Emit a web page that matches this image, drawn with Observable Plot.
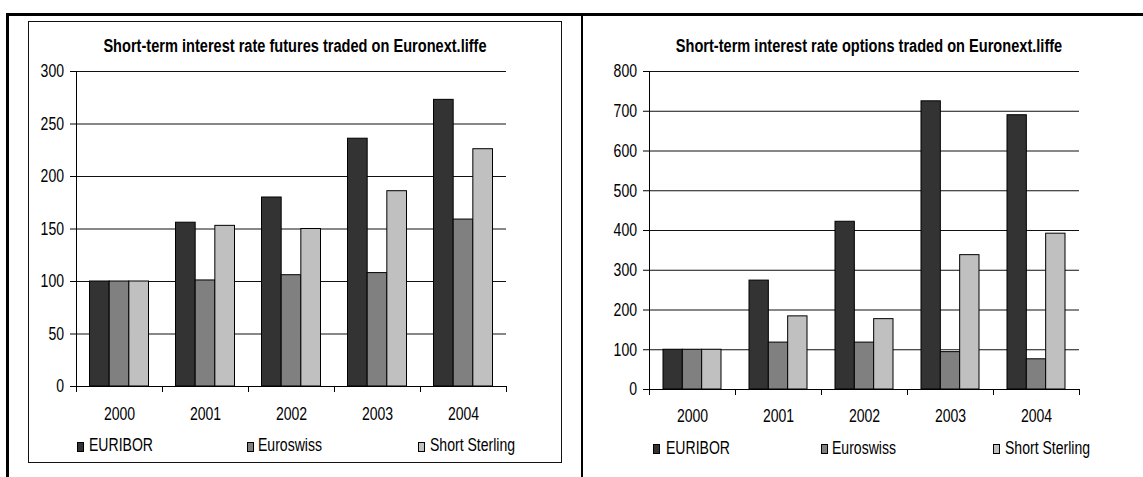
<!DOCTYPE html>
<html><head><meta charset="utf-8">
<script src="https://cdn.jsdelivr.net/npm/d3@7"></script>
<script src="https://cdn.jsdelivr.net/npm/@observablehq/plot@0.6"></script>
<style>
html,body{margin:0;padding:0;background:#fff;}
#root{position:relative;width:1143px;height:477px;overflow:hidden;font-family:"Liberation Sans",Arial,sans-serif;color:#000;background:#fff;}
.line{position:absolute;background:#000;}
.box{position:absolute;box-sizing:border-box;border:1.5px solid #111;}
.chart{position:absolute;top:0;}
.title{position:absolute;width:600px;text-align:center;font-weight:bold;font-size:18px;line-height:20px;white-space:nowrap;transform:scaleX(0.81);transform-origin:50% 50%;}
.lgtext{position:absolute;font-size:18px;line-height:20px;white-space:nowrap;transform:scaleX(0.78);transform-origin:0 0;}
.lgsw{position:absolute;width:5px;height:8px;border:1px solid #000;}
</style></head><body><div id="root"></div>
<script>
// ---- data ----
const years = ["2000", "2001", "2002", "2003", "2004"];
const seriesNames = ["EURIBOR", "Euroswiss", "Short Sterling"];
const seriesColors = ["#333333", "#808080", "#c0c0c0"];

const futuresEURIBOR = [100, 156, 180, 236, 273];
const futuresEuroswiss = [100, 101, 106, 108, 159];
const futuresShortSterling = [100, 153, 150, 186, 226];

const optionsEURIBOR = [100, 274, 422, 725, 690];
const optionsEuroswiss = [100, 118, 118, 94, 76];
const optionsShortSterling = [100, 184, 177, 338, 392];

const futuresTicks = [0, 50, 100, 150, 200, 250, 300];
const optionsTicks = [0, 100, 200, 300, 400, 500, 600, 700, 800];

const futuresTitle = "Short-term interest rate futures traded on Euronext.liffe";
const optionsTitle = "Short-term interest rate options traded on Euronext.liffe";

// ---- layout ----
const root = document.getElementById("root");
function el(cls, css, text) {
  const d = document.createElement("div");
  d.className = cls;
  Object.assign(d.style, css);
  if (text != null) d.textContent = text;
  root.appendChild(d);
  return d;
}

// outer frame
el("line", {left: "6px", top: "13px", width: "1137px", height: "3px"});
el("line", {left: "6px", top: "13px", width: "3px", height: "464px"});
el("line", {left: "581px", top: "13px", width: "2px", height: "464px"});
// inner box of the left chart
el("box", {left: "28px", top: "21px", width: "534px", height: "442px"});

function squeeze(svg, k) {
  svg.querySelectorAll("text").forEach(t => {
    const x = parseFloat(t.getAttribute("x")) || 0;
    const tr = t.getAttribute("transform") || "";
    t.setAttribute("transform", `${tr} translate(${x},0) scale(${k},1) translate(${-x},0)`);
  });
}

function makeChart({values, ticks, maxY, left, width, height, marginLeft, marginRight, marginTop, marginBottom, groupPad, labelPad}) {
  const plotW = width - marginLeft - marginRight;
  const band = plotW / years.length;
  const barW = (band - 2 * groupPad) / seriesNames.length;
  const marks = [Plot.ruleY(ticks, {stroke: "#111", strokeWidth: 1})];
  seriesNames.forEach((name, s) => {
    const rows = years.map((year, i) => ({year, series: name, value: values[s][i]}));
    marks.push(Plot.barY(rows, {
      x: "year", y: "value",
      fill: seriesColors[s], stroke: "#000", strokeWidth: 1,
      insetLeft: groupPad + s * barW,
      insetRight: band - groupPad - (s + 1) * barW
    }));
  });
  marks.push(
    Plot.ruleY([0], {stroke: "#000", strokeWidth: 1}),
    Plot.ruleX([years[0]], {x: d => d, dx: -band / 2, insetBottom: -6, stroke: "#000"}),
    Plot.ruleX(years, {x: d => d, dx: band / 2, y1: 0, y2: 0, insetBottom: -6, stroke: "#000"}),
    Plot.axisY({ticks, tickSize: 6, tickPadding: 6.5, label: null, fontSize: 18}),
    Plot.axisX({tickSize: 0, tickPadding: labelPad, label: null, fontSize: 18})
  );
  const svg = Plot.plot({
    width, height, marginLeft, marginRight, marginTop, marginBottom,
    x: {domain: years, padding: 0},
    y: {domain: [0, maxY]},
    style: {fontFamily: '"Liberation Sans", Arial, sans-serif', fontSize: "18px", background: "transparent", color: "#000", overflow: "visible"},
    marks
  });
  squeeze(svg, 0.78);
  const wrap = document.createElement("div");
  wrap.className = "chart";
  wrap.style.left = left + "px";
  wrap.style.width = width + "px";
  wrap.appendChild(svg);
  root.appendChild(wrap);
}

makeChart({
  values: [futuresEURIBOR, futuresEuroswiss, futuresShortSterling],
  ticks: futuresTicks, maxY: 300,
  left: 0, width: 570, height: 430,
  marginLeft: 76, marginRight: 64, marginTop: 71, marginBottom: 44,
  groupPad: 13.5, labelPad: 20.5
});
makeChart({
  values: [optionsEURIBOR, optionsEuroswiss, optionsShortSterling],
  ticks: optionsTicks, maxY: 800,
  left: 583, width: 560, height: 430,
  marginLeft: 66, marginRight: 64, marginTop: 71, marginBottom: 41,
  groupPad: 14, labelPad: 19.5
});

// titles
el("title", {left: "-5px", top: "35.5px"}, futuresTitle);
el("title", {left: "569px", top: "35.5px"}, optionsTitle);

// legends
function legend(swX, txX, swTop, txTop) {
  seriesNames.forEach((name, s) => {
    el("lgsw", {left: swX[s] + "px", top: swTop + "px", background: seriesColors[s]});
    el("lgtext", {left: txX[s] + "px", top: txTop + "px"}, name);
  });
}
legend([77, 247, 418], [89, 258, 430], 442, 435);
legend([653, 821, 993], [666, 832, 1005], 444, 438);
</script>
</body></html>
